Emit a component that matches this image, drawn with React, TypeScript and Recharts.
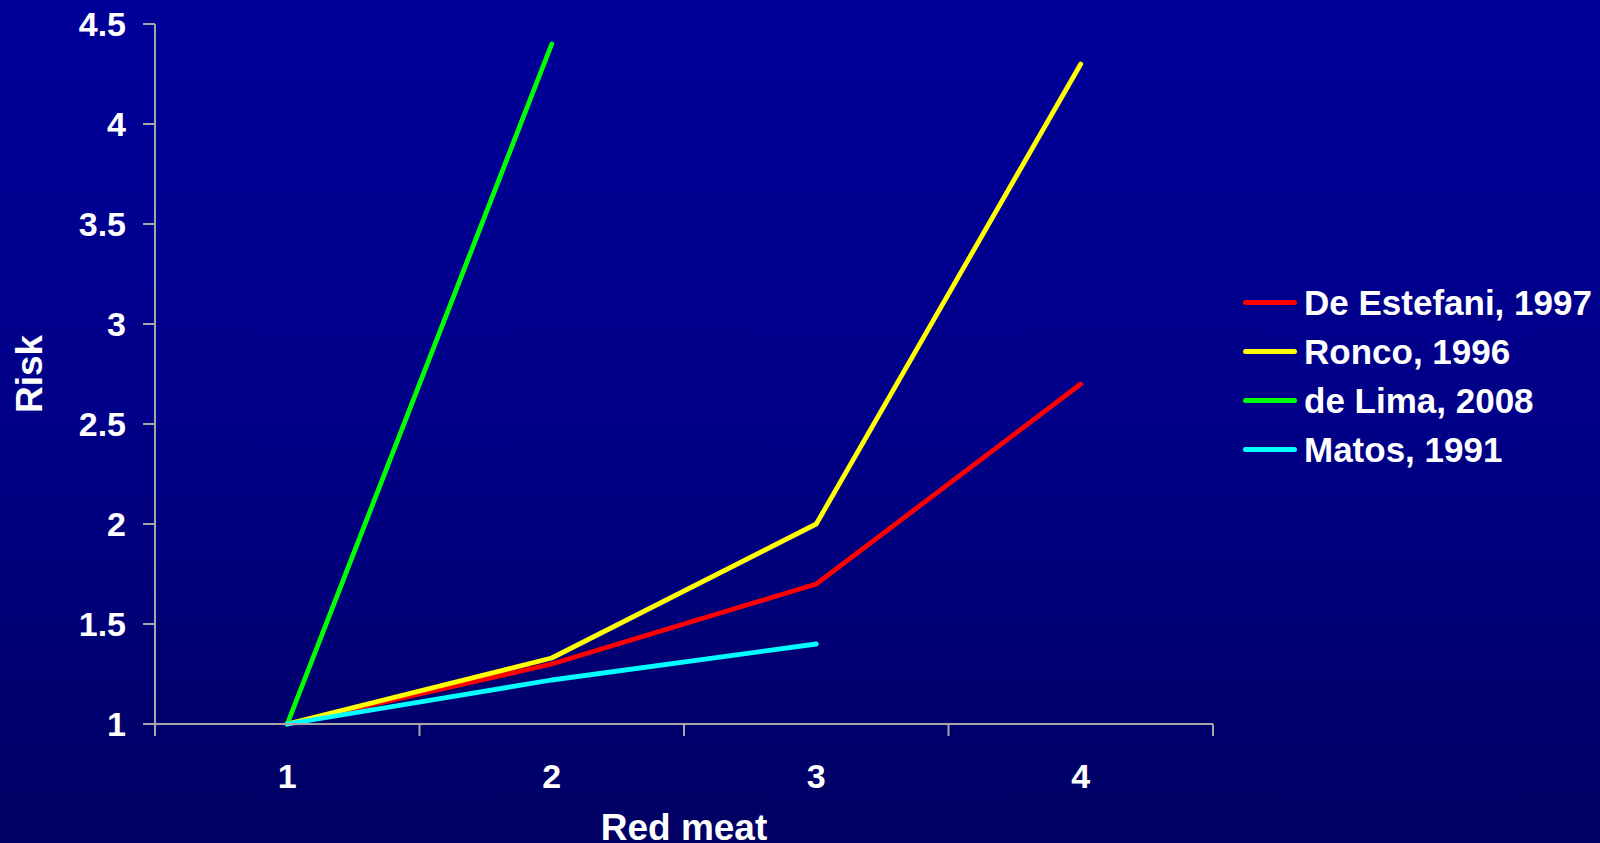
import { LineChart, Line, XAxis, YAxis, Legend, Label } from 'recharts'

// categories on the x axis
const categories = [1, 2, 3, 4]

// relative risk per study, null = no value for that category
const deEstefani = [1, 1.3, 1.7, 2.7]
const ronco = [1, 1.33, 2.0, 4.3]
const deLima = [1, 4.4, null, null]
const matos = [1, 1.22, 1.4, null]

const yTicks = [1, 1.5, 2, 2.5, 3, 3.5, 4, 4.5]
const xTicks = [0.5, 1, 1.5, 2, 2.5, 3, 3.5, 4, 4.5]

const series = [
  { key: 'deEstefani', name: 'De Estefani, 1997', color: '#FF0000' },
  { key: 'ronco', name: 'Ronco, 1996', color: '#FFFF00' },
  { key: 'deLima', name: 'de Lima, 2008', color: '#00FF00' },
  { key: 'matos', name: 'Matos, 1991', color: '#00FFFF' },
]

const data = categories.map((c, i) => ({
  x: c,
  deEstefani: deEstefani[i],
  ronco: ronco[i],
  deLima: deLima[i],
  matos: matos[i],
}))

const FONT = '"Liberation Sans", Arial, sans-serif'
const AXIS = '#A6A6A6'

// integer ticks get a label, half ticks get the little tick mark between categories
function XTick(props: any) {
  const { x, y, payload } = props
  const v = payload.value
  if (Number.isInteger(v)) {
    return (
      <text x={x} y={y + 52} textAnchor="middle" dominantBaseline="central" fill="#fff" fontSize={34} fontWeight="bold" fontFamily={FONT}>
        {v}
      </text>
    )
  }
  return <line x1={x} x2={x} y1={y} y2={y + 12} stroke={AXIS} strokeWidth={2} />
}

function LegendBox() {
  return (
    <div>
      {series.map((s) => (
        <div key={s.key} style={{ display: 'flex', alignItems: 'center', height: 49 }}>
          <div style={{ width: 54, height: 5, borderRadius: 3, background: s.color }} />
          <span style={{ marginLeft: 7, color: '#fff', fontSize: 35, fontWeight: 'bold', fontFamily: FONT, whiteSpace: 'nowrap' }}>
            {s.name}
          </span>
        </div>
      ))}
    </div>
  )
}

export default function App() {
  return (
    <div
      style={{
        position: 'absolute',
        left: 0,
        top: 0,
        width: 1600,
        height: 843,
        background: 'linear-gradient(to bottom, #000099 0%, #000088 50%, #000063 100%)',
        fontFamily: FONT,
      }}
    >
      <LineChart width={1600} height={843} data={data} margin={{ top: 24, right: 387, left: 0, bottom: 0 }}>
        <XAxis
          dataKey="x"
          type="number"
          domain={[0.5, 4.5]}
          ticks={xTicks}
          interval={0}
          height={119}
          tickSize={0}
          tickMargin={0}
          tickLine={false}
          tick={<XTick />}
          axisLine={{ stroke: AXIS, strokeWidth: 2 }}
        >
          <Label value="Red meat" position="insideBottom" offset={3} fill="#fff" fontSize={37} fontWeight="bold" fontFamily={FONT} />
        </XAxis>
        <YAxis
          type="number"
          domain={[1, 4.5]}
          ticks={yTicks}
          interval={0}
          width={155}
          tickSize={12}
          tickMargin={17}
          axisLine={{ stroke: AXIS, strokeWidth: 2 }}
          tickLine={{ stroke: AXIS, strokeWidth: 2 }}
          tick={{ fill: '#fff', fontSize: 34, fontWeight: 'bold', fontFamily: FONT }}
        >
          <Label value="Risk" angle={-90} position="center" dx={-49} fill="#fff" fontSize={37} fontWeight="bold" fontFamily={FONT} />
        </YAxis>
        <Legend
          layout="vertical"
          align="center"
          verticalAlign="middle"
          content={<LegendBox />}
          wrapperStyle={{ left: 1243, top: 278, width: 357 }}
        />
        {series.map((s) => (
          <Line
            key={s.key}
            dataKey={s.key}
            name={s.name}
            stroke={s.color}
            strokeWidth={4.8}
            strokeLinecap="round"
            strokeLinejoin="round"
            dot={false}
            activeDot={false}
            isAnimationActive={false}
          />
        ))}
      </LineChart>
    </div>
  )
}
